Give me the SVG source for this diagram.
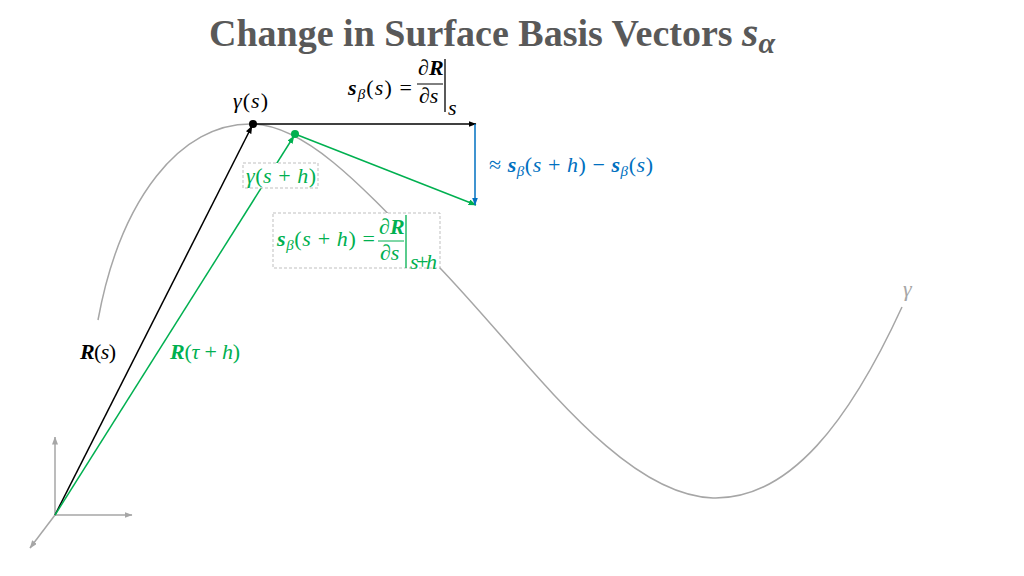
<svg xmlns="http://www.w3.org/2000/svg" width="1024" height="576" viewBox="0 0 1024 576">
<defs>
<style>
.m{font-family:"Liberation Serif","DejaVu Serif",serif;font-style:italic;font-size:22px}
.b{font-weight:bold}
.up{font-style:normal}
.g{fill:#00B050}
.bl{fill:#0070C0}
.k{fill:#000}
.box{fill:#fff;stroke:#BFBFBF;stroke-width:1;stroke-dasharray:3 2}
.curve{fill:none;stroke:#A6A6A6;stroke-width:1.5}
</style>
<marker id="ak" markerWidth="8" markerHeight="6" refX="7.5" refY="3" orient="auto" markerUnits="userSpaceOnUse"><path d="M0,0 L8,3 L0,6 Z" fill="#000"/></marker>
<marker id="ag" markerWidth="8" markerHeight="6" refX="7.5" refY="3" orient="auto" markerUnits="userSpaceOnUse"><path d="M0,0 L8,3 L0,6 Z" fill="#00B050"/></marker>
<marker id="ab" markerWidth="8" markerHeight="6" refX="7.5" refY="3" orient="auto" markerUnits="userSpaceOnUse"><path d="M0,0 L8,3 L0,6 Z" fill="#0070C0"/></marker>
<marker id="ay" markerWidth="8" markerHeight="6" refX="7.5" refY="3" orient="auto" markerUnits="userSpaceOnUse"><path d="M0,0 L8,3 L0,6 Z" fill="#A6A6A6"/></marker>
</defs>
<rect width="1024" height="576" fill="#fff"/>
<g id="title">
<text x="209" y="46" font-family="'Liberation Serif',serif" font-weight="bold" font-size="38" fill="#595959">Change in Surface Basis Vectors <tspan font-style="italic" font-size="42">s</tspan><tspan font-style="italic" font-size="30" dy="7">α</tspan></text>
</g>
<g id="curve-gamma">
<path class="curve" d="M98,320 C120,200 180,122 253,124 C310,126 370,195 440,268 C530,362 620,495 713,498 C790,500 850,420 902,307"/>
<text x="903" y="296" class="m" font-size="18" fill="#A6A6A6">γ</text>
</g>
<g id="axes" stroke="#A6A6A6" stroke-width="1.5" fill="none">
<line x1="55" y1="515" x2="55" y2="437" marker-end="url(#ay)"/>
<line x1="55" y1="515" x2="132" y2="515" marker-end="url(#ay)"/>
<line x1="55" y1="515" x2="30" y2="548" marker-end="url(#ay)"/>
</g>
<g id="connectors" fill="none" stroke-width="1.5">
<line x1="55" y1="515" x2="252" y2="126" stroke="#000" marker-end="url(#ak)"/>
<line x1="55" y1="515" x2="294" y2="136" stroke="#00B050" marker-end="url(#ag)"/>
<line x1="253" y1="124" x2="476" y2="124" stroke="#000" marker-end="url(#ak)"/>
<line x1="295" y1="134" x2="476" y2="205" stroke="#00B050" marker-end="url(#ag)"/>
<line x1="475" y1="124" x2="475" y2="205" stroke="#0070C0" marker-end="url(#ab)"/>
</g>
<g id="point-s"><circle cx="253" cy="124" r="4" fill="#000"/>
<text x="233" y="108" class="m k" textLength="35" lengthAdjust="spacing">γ<tspan class="up">(</tspan>s<tspan class="up">)</tspan></text></g>
<g id="point-sh"><circle cx="295" cy="134" r="4" fill="#00B050"/></g>
<g id="label-gamma-sh">
<rect class="box" x="243" y="163" width="75" height="25"/>
<text x="246" y="183" class="m g" textLength="70" lengthAdjust="spacing">γ<tspan class="up">(</tspan>s<tspan class="up"> + </tspan>h<tspan class="up">)</tspan></text>
</g>
<g id="formula-s">
<text x="348" y="95" class="m k" textLength="64" lengthAdjust="spacing"><tspan class="b">s</tspan><tspan font-size="15" dy="4">β</tspan><tspan class="up" dy="-4">(</tspan>s<tspan class="up">) =</tspan></text>
<text x="418" y="75" class="m k">∂<tspan class="b">R</tspan></text>
<line x1="417" y1="84" x2="443" y2="84" stroke="#000" stroke-width="1"/>
<text x="419" y="103" class="m k">∂s</text>
<line x1="445" y1="59" x2="445" y2="112" stroke="#000" stroke-width="1.3"/>
<text x="448" y="115" class="m k" font-size="15">s</text>
</g>
<g id="formula-sh">
<rect class="box" x="273" y="213" width="167" height="55"/>
<text x="277" y="246" class="m g" textLength="98" lengthAdjust="spacing"><tspan class="b">s</tspan><tspan font-size="15" dy="4">β</tspan><tspan class="up" dy="-4">(</tspan>s<tspan class="up"> + </tspan>h<tspan class="up">) =</tspan></text>
<text x="379" y="234" class="m g">∂<tspan class="b">R</tspan></text>
<line x1="378" y1="241" x2="404" y2="241" stroke="#00B050" stroke-width="1"/>
<text x="380" y="260" class="m g" font-size="21">∂s</text>
<line x1="406" y1="215" x2="406" y2="268" stroke="#00B050" stroke-width="1.3"/>
<text x="410" y="269" class="m g" font-size="14" textLength="27" lengthAdjust="spacing">s+h</text>
</g>
<g id="label-diff">
<text x="489" y="172" class="m bl" textLength="164" lengthAdjust="spacing"><tspan class="up">≈ </tspan><tspan class="b">s</tspan><tspan font-size="15" dy="4">β</tspan><tspan class="up" dy="-4">(</tspan>s<tspan class="up"> + </tspan>h<tspan class="up">) − </tspan><tspan class="b">s</tspan><tspan font-size="15" dy="4">β</tspan><tspan class="up" dy="-4">(</tspan>s<tspan class="up">)</tspan></text>
</g>
<g id="label-Rs">
<text x="80" y="359" class="m k" textLength="36" lengthAdjust="spacing"><tspan class="b">R</tspan><tspan class="up">(</tspan>s<tspan class="up">)</tspan></text>
</g>
<g id="label-Rth">
<text x="170" y="359" class="m g" textLength="70" lengthAdjust="spacing"><tspan class="b">R</tspan><tspan class="up">(</tspan>τ<tspan class="up"> + </tspan>h<tspan class="up">)</tspan></text>
</g>
</svg>
